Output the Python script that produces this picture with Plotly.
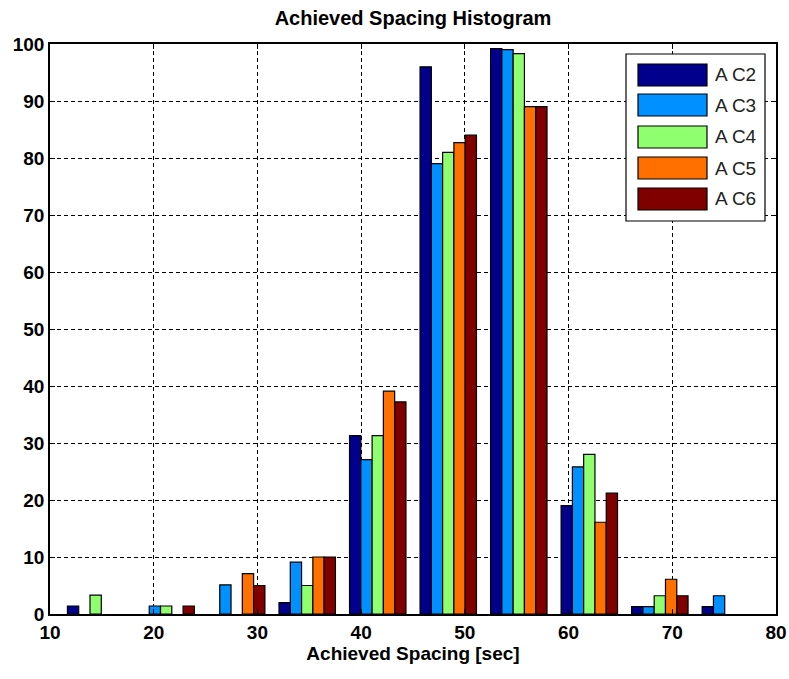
import plotly.graph_objects as go

# ---- data ----
bin_centers = [14.4, 21.2, 28.0, 34.8, 41.6, 48.4, 55.2, 62.0, 68.8, 75.6]
series_names = ["AC2", "AC3", "AC4", "AC5", "AC6"]
ac2 = [1.4, 0, 0, 2.0, 31.3, 96.0, 99.2, 19.0, 1.3, 1.3]
ac3 = [0, 1.4, 5.1, 9.1, 27.1, 79.0, 99.0, 25.8, 1.3, 3.2]
ac4 = [3.3, 1.4, 0, 5.0, 31.3, 81.0, 98.3, 28.0, 3.2, 0]
ac5 = [0, 0, 7.1, 10.0, 39.1, 82.7, 89.0, 16.1, 6.1, 0]
ac6 = [0, 1.4, 5.0, 10.0, 37.2, 84.0, 89.0, 21.2, 3.2, 0]
series_values = [ac2, ac3, ac4, ac5, ac6]
colors = ["#00008C", "#0090FF", "#8FFF6F", "#FF7000", "#800000"]
x_ticks = [10, 20, 30, 40, 50, 60, 70, 80]
y_ticks = [0, 10, 20, 30, 40, 50, 60, 70, 80, 90, 100]

W, H = 789, 679
L, R, T, B = 50, 13, 44, 65
PW, PH = W - L - R, H - T - B

fig = go.Figure()
for name, vals, col in zip(series_names, series_values, colors):
    fig.add_trace(go.Bar(x=bin_centers, y=[v if v > 0 else None for v in vals], name=name,
                         marker=dict(color=col, line=dict(color="black", width=1.2)),
                         showlegend=False))

font_main = dict(family="Liberation Sans, Arial, sans-serif", size=19, color="black", weight="bold")

axis_common = dict(showgrid=True, gridcolor="black", griddash="4px,3px", gridwidth=1,
                   showline=True, linecolor="black", linewidth=1.5, mirror="allticks",
                   ticks="inside", ticklen=5, tickcolor="black", zeroline=False,
                   tickfont=font_main, automargin=False)

fig.update_layout(
    width=W, height=H,
    margin=dict(l=L, r=R, t=T, b=B, autoexpand=False),
    paper_bgcolor="white", plot_bgcolor="white",
    barmode="group", bargap=0.2, bargroupgap=0,
    title=dict(text="Achieved Spacing Histogram", x=0.5, xref="paper", xanchor="center",
               y=1 - 18 / H, yanchor="middle", font=dict(font_main, size=20), automargin=False),
    xaxis=dict(range=[10, 80], tickvals=x_ticks, ticktext=[str(v) for v in x_ticks],
               title=dict(text="Achieved Spacing [sec]", font=font_main, standoff=4),
               **axis_common),
    yaxis=dict(range=[0, 100], tickvals=y_ticks, ticktext=[str(v) for v in y_ticks],
               **axis_common),
)

# ---- custom legend (MATLAB style) ----
def px(xp):
    return (xp - L) / PW

def py(yp):
    return (H - B - yp) / PH

fig.add_shape(type="rect", xref="paper", yref="paper",
              x0=px(626), x1=px(765), y0=py(221), y1=py(54),
              line=dict(color="black", width=1.2), fillcolor="white", layer="above")
row_centers = [75, 105, 137, 168, 199]
for name, col, yc in zip(series_names, colors, row_centers):
    fig.add_shape(type="rect", xref="paper", yref="paper",
                  x0=px(638), x1=px(707), y0=py(yc + 11), y1=py(yc - 11),
                  line=dict(color="black", width=1.2), fillcolor=col, layer="above")
    fig.add_annotation(xref="paper", yref="paper", x=px(713), y=py(yc),
                       text=" ".join(name[:1]) + " " + name[1:], showarrow=False,
                       xanchor="left", yanchor="middle",
                       font=dict(family="Liberation Sans, Arial, sans-serif", size=19, color="#222"))

fig.write_html("out.html", config={"displayModeBar": False},
               post_script="document.body.style.margin='0';document.body.style.overflow='hidden';")
